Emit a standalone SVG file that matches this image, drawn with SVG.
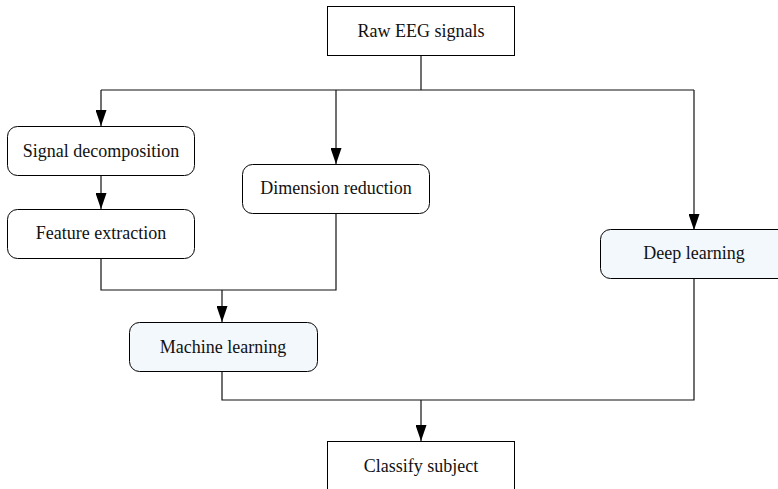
<svg xmlns="http://www.w3.org/2000/svg" width="778" height="489" viewBox="0 0 778 489">
<defs>
<marker id="ah" markerWidth="16" markerHeight="11" refX="16" refY="5.5" orient="auto" markerUnits="userSpaceOnUse" viewBox="0 0 16 11">
<path d="M0,0 L16,5.5 L0,11 Z" fill="#000"/>
</marker>
<style>
.box{fill:#fff;stroke:#000;stroke-width:1}
.blue{fill:#f3f8fd}
.lbl{font-family:'Liberation Serif','Times New Roman',serif;font-size:18px;fill:#111;text-anchor:middle}
.ln{fill:none;stroke:#111;stroke-width:1.2}
</style>
</defs>
<rect width="778" height="489" fill="#fff"/>
<g id="connectors">
<path class="ln" d="M421,55 V90" stroke-width="2"/>
<path class="ln" d="M101,90 H694"/>
<path class="ln" d="M101,90 V126" marker-end="url(#ah)"/>
<path class="ln" d="M336,90 V164" marker-end="url(#ah)"/>
<path class="ln" d="M694,90 V230" marker-end="url(#ah)"/>
<path class="ln" d="M101,175 V209" marker-end="url(#ah)"/>
<path class="ln" d="M101,258 V290 H336 V213"/>
<path class="ln" d="M222,290 V322" marker-end="url(#ah)"/>
<path class="ln" d="M222,371 V400 H694 V278"/>
<path class="ln" d="M421,400 V441" marker-end="url(#ah)"/>
</g>
<g id="raw">
<rect class="box" x="327.5" y="6.5" width="187" height="49"/>
<text class="lbl" font-family="Liberation Serif, serif" x="421" y="37">Raw EEG signals</text>
</g>
<g id="signal-decomposition">
<rect class="box" x="7.5" y="126.5" width="187" height="49" rx="10"/>
<text class="lbl" font-family="Liberation Serif, serif" x="101" y="157">Signal decomposition</text>
</g>
<g id="feature-extraction">
<rect class="box" x="7.5" y="209.5" width="187" height="49" rx="10"/>
<text class="lbl" font-family="Liberation Serif, serif" x="101" y="239">Feature extraction</text>
</g>
<g id="dimension-reduction">
<rect class="box" x="242.5" y="164.5" width="187" height="49" rx="10"/>
<text class="lbl" font-family="Liberation Serif, serif" x="336" y="194">Dimension reduction</text>
</g>
<g id="deep-learning">
<rect class="box blue" x="600.5" y="229.5" width="188" height="49" rx="10"/>
<text class="lbl" font-family="Liberation Serif, serif" x="694" y="259">Deep learning</text>
</g>
<g id="machine-learning">
<rect class="box blue" x="129.5" y="322.5" width="188" height="49" rx="10"/>
<text class="lbl" font-family="Liberation Serif, serif" x="223" y="353">Machine learning</text>
</g>
<g id="classify">
<rect class="box" x="327.5" y="441.5" width="187" height="60"/>
<text class="lbl" font-family="Liberation Serif, serif" x="421" y="472">Classify subject</text>
</g>
</svg>
